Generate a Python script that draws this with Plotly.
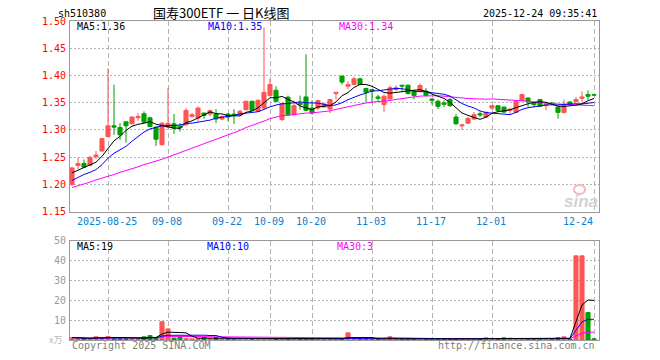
import plotly.graph_objects as go
import pandas as pd

# ---------------- data ----------------
dates = [
    "2025-08-15", "2025-08-18", "2025-08-19", "2025-08-20", "2025-08-21", "2025-08-22",
    "2025-08-25", "2025-08-26", "2025-08-27", "2025-08-28", "2025-08-29",
    "2025-09-01", "2025-09-02", "2025-09-03", "2025-09-04", "2025-09-05",
    "2025-09-08", "2025-09-09", "2025-09-10", "2025-09-11", "2025-09-12",
    "2025-09-15", "2025-09-16", "2025-09-17", "2025-09-18", "2025-09-19",
    "2025-09-22", "2025-09-23", "2025-09-24", "2025-09-25", "2025-09-26",
    "2025-09-29", "2025-09-30",
    "2025-10-09", "2025-10-10",
    "2025-10-13", "2025-10-14", "2025-10-15", "2025-10-16", "2025-10-17",
    "2025-10-20", "2025-10-21", "2025-10-22", "2025-10-23", "2025-10-24",
    "2025-10-27", "2025-10-28", "2025-10-29", "2025-10-30", "2025-10-31",
    "2025-11-03", "2025-11-04", "2025-11-05", "2025-11-06", "2025-11-07",
    "2025-11-10", "2025-11-11", "2025-11-12", "2025-11-13", "2025-11-14",
    "2025-11-17", "2025-11-18", "2025-11-19", "2025-11-20", "2025-11-21",
    "2025-11-24", "2025-11-25", "2025-11-26", "2025-11-27", "2025-11-28",
    "2025-12-01", "2025-12-02", "2025-12-03", "2025-12-04", "2025-12-05",
    "2025-12-08", "2025-12-09", "2025-12-10", "2025-12-11", "2025-12-12",
    "2025-12-15", "2025-12-16", "2025-12-17", "2025-12-18", "2025-12-19",
    "2025-12-22", "2025-12-23", "2025-12-24",
]

opens = [
    1.200, 1.2346, 1.2383, 1.2346, 1.2506, 1.2611, 1.2877, 1.3074, 1.3043, 1.3148,
    1.3111, 1.3222, 1.3296, 1.3222, 1.3050, 1.2728, 1.3050, 1.3111, 1.3068, 1.3093,
    1.3247, 1.3216, 1.3309, 1.3290, 1.3290, 1.3198, 1.3290, 1.3290, 1.3278, 1.3370,
    1.3525, 1.3340, 1.3401, 1.3630, 1.3728, 1.3190, 1.3600, 1.3278, 1.3494, 1.3605,
    1.3401, 1.3401, 1.3420, 1.3383, 1.3667, 1.3988, 1.3802, 1.3833, 1.3938, 1.3759,
    1.3741, 1.3605, 1.3463, 1.3568, 1.3741, 1.3821, 1.3821, 1.3710, 1.3710, 1.3710,
    1.3568, 1.3525, 1.3494, 1.3556, 1.3235, 1.3074, 1.3123, 1.3198, 1.3296, 1.3235,
    1.3401, 1.3444, 1.3420, 1.3358, 1.3321, 1.3537, 1.3586, 1.3494, 1.3556, 1.3444,
    1.3494, 1.3420, 1.3321, 1.3512, 1.3519, 1.3580, 1.3648, 1.3648,
]
highs = [
    1.232, 1.2488, 1.2457, 1.2519, 1.2611, 1.2850, 1.4130, 1.3833, 1.3123, 1.3150,
    1.3247, 1.3309, 1.3340, 1.3235, 1.3060, 1.3136, 1.3770, 1.3290, 1.3123, 1.3401,
    1.3309, 1.3432, 1.3315, 1.3370, 1.3383, 1.3265, 1.3310, 1.3380, 1.3370, 1.3537,
    1.3537, 1.3556, 1.4880, 1.3938, 1.3802, 1.3494, 1.3630, 1.3537, 1.3630, 1.4389,
    1.3543, 1.3556, 1.3490, 1.3568, 1.3691, 1.3990, 1.3895, 1.3975, 1.3957, 1.3772,
    1.3741, 1.3648, 1.3648, 1.3815, 1.3815, 1.3821, 1.3833, 1.3728, 1.3852, 1.3772,
    1.3568, 1.3556, 1.3543, 1.3586, 1.3290, 1.3111, 1.3235, 1.3327, 1.3340, 1.3340,
    1.3444, 1.3444, 1.3420, 1.3383, 1.3537, 1.3667, 1.3586, 1.3494, 1.3556, 1.3494,
    1.3506, 1.3420, 1.3556, 1.3525, 1.3605, 1.3710, 1.3722, 1.3652,
]
lows = [
    1.197, 1.2278, 1.2302, 1.2333, 1.2475, 1.2600, 1.2864, 1.2907, 1.2815, 1.2765,
    1.3105, 1.3167, 1.3123, 1.3050, 1.2704, 1.2716, 1.3030, 1.2925, 1.2969, 1.3074,
    1.3228, 1.3154, 1.3204, 1.3247, 1.3123, 1.3185, 1.3160, 1.3105, 1.3247, 1.3358,
    1.3340, 1.3327, 1.3383, 1.3617, 1.3506, 1.3164, 1.3265, 1.3265, 1.3370, 1.3340,
    1.3278, 1.3358, 1.3405, 1.3309, 1.3556, 1.3833, 1.3741, 1.3821, 1.3821, 1.3506,
    1.3494, 1.3525, 1.3321, 1.3556, 1.3710, 1.3710, 1.3648, 1.3568, 1.3690, 1.3617,
    1.3463, 1.3383, 1.3420, 1.3420, 1.3093, 1.3000, 1.3111, 1.3185, 1.3235, 1.3216,
    1.3370, 1.3321, 1.3309, 1.3296, 1.3309, 1.3525, 1.3420, 1.3420, 1.3420, 1.3358,
    1.3469, 1.3204, 1.3296, 1.3450, 1.3506, 1.3506, 1.3556, 1.3630,
]
closes = [
    1.230, 1.2383, 1.2315, 1.2494, 1.2537, 1.2840, 1.3074, 1.3050, 1.2907, 1.3074,
    1.3235, 1.3247, 1.3142, 1.3062, 1.2827, 1.3123, 1.3120, 1.3030, 1.3037, 1.3358,
    1.3278, 1.3401, 1.3265, 1.3352, 1.3198, 1.3247, 1.3235, 1.3265, 1.3340, 1.3525,
    1.3358, 1.3543, 1.3691, 1.3833, 1.3525, 1.3480, 1.3278, 1.3444, 1.3463, 1.3358,
    1.3309, 1.3537, 1.3475, 1.3556, 1.3691, 1.3877, 1.3833, 1.3938, 1.3833, 1.3691,
    1.3710, 1.3580, 1.3617, 1.3772, 1.3772, 1.3802, 1.3667, 1.3630, 1.3815, 1.3630,
    1.3543, 1.3432, 1.3469, 1.3444, 1.3111, 1.3093, 1.3210, 1.3278, 1.3272, 1.3321,
    1.3444, 1.3358, 1.3327, 1.3383, 1.3525, 1.3648, 1.3512, 1.3463, 1.3432, 1.3475,
    1.3481, 1.3321, 1.3444, 1.3463, 1.3556, 1.3605, 1.3617, 1.3636,
]
# volume in 万 (10k units)
volumes = [
    1.2, 0.8, 0.7, 0.8, 1.6, 1.0, 1.8, 1.0, 0.8, 0.7,
    0.7, 0.6, 1.6, 2.2, 1.2, 9.2, 5.6, 1.0, 1.5, 0.8,
    0.6, 0.7, 1.3, 0.7, 1.2, 0.6, 0.7, 0.6, 0.6, 0.6,
    0.6, 0.6, 0.7, 0.6, 0.6, 0.6, 0.6, 0.6, 0.6, 0.7,
    0.6, 0.6, 0.6, 0.6, 0.6, 0.6, 3.6, 0.7, 0.6, 0.6,
    0.6, 0.6, 0.6, 1.6, 0.6, 0.6, 0.6, 0.6, 0.6, 0.6,
    0.6, 0.6, 0.6, 0.6, 0.6, 0.6, 0.6, 0.6, 0.6, 1.1,
    0.6, 0.6, 1.1, 0.9, 0.6, 0.6, 0.6, 0.6, 0.6, 0.6,
    0.6, 1.1, 1.6, 0.5, 42.3, 42.3, 13.8, 0.6,
]
# moving-average values for the warm-up days
ma5_head = [1.221, 1.226, 1.230, 1.236]
ma10_head = [1.207, 1.213, 1.218, 1.222, 1.227, 1.236, 1.248, 1.257, 1.263]
ma30_head = [
    1.194, 1.197, 1.201, 1.204, 1.208, 1.211, 1.215, 1.218, 1.222, 1.225,
    1.229, 1.232, 1.236, 1.239, 1.243, 1.246, 1.250, 1.254, 1.258, 1.262,
    1.266, 1.270, 1.274, 1.278, 1.283, 1.287, 1.291, 1.295, 1.299,
]
price_ticks = [1.50, 1.45, 1.40, 1.35, 1.30, 1.25, 1.20, 1.15]
volume_ticks = [50, 40, 30, 20, 10]
date_ticks = ["2025-08-25", "2025-09-08", "2025-09-22", "2025-10-09", "2025-10-20",
              "2025-11-03", "2025-11-17", "2025-12-01", "2025-12-24"]
date_tick_labels = ["2025-08-25", "09-08", "09-22", "10-09", "10-20",
                    "11-03", "11-17", "12-01", "12-24"]

code = "sh510380"
title = "国寿300ETF 一 日K线图"
stamp = "2025-12-24 09:35:41"

# ---------------- derived ----------------
n = len(dates)
idx = list(range(n))
cs = pd.Series(closes)
ma5 = cs.rolling(5).mean().tolist()
ma10 = cs.rolling(10).mean().tolist()
ma30 = cs.rolling(30).mean().tolist()
ma5[:len(ma5_head)] = ma5_head
ma10[:len(ma10_head)] = ma10_head
ma30[:len(ma30_head)] = ma30_head
vs = pd.Series(volumes)
vma5 = vs.rolling(5, min_periods=1).mean().tolist()
vma10 = vs.rolling(10, min_periods=1).mean().tolist()
vma30 = vs.rolling(30, min_periods=1).mean().tolist()

RED = "#ff5555"
GREEN = "#00a000"
up = [c >= o for o, c in zip(opens, closes)]
colors = [RED if u else GREEN for u in up]

# ---------------- layout geometry (pixels) ----------------
W, H = 660, 360
L, R, T, B = 70, 61, 21, 20
PW, PH = W - L - R, H - T - B
MAIN_BOTTOM = 211.5
VOL_TOP = 240.5


def xp(px):
    return (px - L) / PW


def yp(py):
    return (H - B - py) / PH


x_range = [-0.333, n - 0.167]

fig = go.Figure()

# wicks
for col in (RED, GREEN):
    wx, wy = [], []
    for i in idx:
        if colors[i] == col:
            wx += [i, i, None]
            wy += [lows[i], highs[i], None]
    fig.add_trace(go.Scatter(x=wx, y=wy, mode="lines", line=dict(color=col, width=1),
                             xaxis="x", yaxis="y", hoverinfo="skip"))

# candle bodies
fig.add_trace(go.Bar(
    x=idx,
    base=[min(o, c) for o, c in zip(opens, closes)],
    y=[abs(c - o) for o, c in zip(opens, closes)],
    width=0.68,
    marker=dict(color=colors, line=dict(color=colors, width=1)),
    xaxis="x", yaxis="y", hoverinfo="skip",
))

# price MAs
for vals, col in ((ma30, "#ff00ff"), (ma10, "#0000ff"), (ma5, "#000000")):
    fig.add_trace(go.Scatter(x=idx, y=vals, mode="lines", line=dict(color=col, width=1),
                             xaxis="x", yaxis="y", hoverinfo="skip"))

# volume bars
fig.add_trace(go.Bar(
    x=idx, y=volumes, width=0.68,
    marker=dict(color=colors, line=dict(color=colors, width=1)),
    xaxis="x2", yaxis="y2", hoverinfo="skip",
))
for vals, col in ((vma30, "#ff00ff"), (vma10, "#0000ff"), (vma5, "#000000")):
    fig.add_trace(go.Scatter(x=idx, y=vals, mode="lines", line=dict(color=col, width=1),
                             xaxis="x2", yaxis="y2", hoverinfo="skip"))

tick_idx = [dates.index(d) for d in date_ticks]

axis_common = dict(showline=True, mirror=True, linecolor="#999999", linewidth=1,
                   zeroline=False, showticklabels=False, ticks="")

fig.update_layout(
    width=W, height=H,
    margin=dict(l=L, r=R, t=T, b=B, pad=0),
    paper_bgcolor="white", plot_bgcolor="white",
    showlegend=False, barmode="overlay", hovermode=False,
    xaxis=dict(domain=[0, 1], anchor="y", range=x_range, tickmode="array",
               tickvals=tick_idx, showgrid=True, gridcolor="#b4b4b4", gridwidth=1,
               griddash="5px,3px", **axis_common),
    yaxis=dict(domain=[yp(MAIN_BOTTOM), 1], anchor="x", range=[1.15, 1.50],
               tickmode="array", tickvals=[t for t in price_ticks if 1.15 < t < 1.50],
               showgrid=True, gridcolor="#b4b4b4", gridwidth=1, griddash="2px,2px",
               **axis_common),
    xaxis2=dict(domain=[0, 1], anchor="y2", range=x_range, tickmode="array",
                tickvals=tick_idx, showgrid=True, gridcolor="#b4b4b4", gridwidth=1,
                griddash="5px,3px", **axis_common),
    yaxis2=dict(domain=[0, yp(VOL_TOP)], anchor="x2", range=[0, 50], tickmode="array",
                tickvals=[t for t in volume_ticks if 0 < t < 50], showgrid=True,
                gridcolor="#b4b4b4", gridwidth=1, griddash="2px,2px", **axis_common),
)

MONO = "DejaVu Sans Mono"
ann = []
# header
ann.append(dict(text=code, x=xp(56), y=yp(13.5), xref="paper", yref="paper",
                xanchor="left", yanchor="middle", showarrow=False,
                font=dict(family=MONO, size=10, color="#000000")))
ann.append(dict(text=title, x=xp(221), y=yp(12.5), xref="paper", yref="paper",
                xanchor="center", yanchor="middle", showarrow=False,
                font=dict(family="Noto Sans CJK SC", size=13, color="#000000")))
ann.append(dict(text=stamp, x=xp(599), y=yp(13.5), xref="paper", yref="paper",
                xanchor="right", yanchor="middle", showarrow=False,
                font=dict(family=MONO, size=10, color="#000000")))

# price axis labels
for t in price_ticks:
    ann.append(dict(text=f"{t:.2f}", x=xp(67.5), y=t, xref="paper", yref="y",
                    xanchor="right", yanchor="middle", showarrow=False,
                    font=dict(family=MONO, size=10, color="#ff0000")))
# volume axis labels
for t in volume_ticks:
    ann.append(dict(text=f"{t}", x=xp(67.5), y=t, xref="paper", yref="y2",
                    xanchor="right", yanchor="middle", showarrow=False,
                    font=dict(family=MONO, size=10, color="#999999")))
ann.append(dict(text="x万", x=xp(63.5), y=yp(339.5), xref="paper", yref="paper",
                xanchor="right", yanchor="middle", showarrow=False,
                font=dict(family="Noto Sans CJK SC", size=9, color="#b8b8b8")))

# date labels
for i, lab in zip(tick_idx, date_tick_labels):
    if i == n - 1:
        ann.append(dict(text=lab, x=i + 0.2, y=yp(221.5), xref="x", yref="paper",
                        xanchor="right", yanchor="middle", showarrow=False,
                        font=dict(family=MONO, size=10, color="#0a80d0")))
    else:
        ann.append(dict(text=lab, x=i - 0.2, y=yp(221.5), xref="x", yref="paper",
                        xanchor="center", yanchor="middle", showarrow=False,
                        font=dict(family=MONO, size=10, color="#0a80d0")))

# MA legends
ann.append(dict(text=f"MA5:{ma5[-1]:.2f}", x=xp(75), y=yp(27), xref="paper", yref="paper",
                xanchor="left", yanchor="middle", showarrow=False,
                font=dict(family=MONO, size=10, color="#000000")))
ann.append(dict(text=f"MA10:{ma10[-1]:.2f}", x=xp(206), y=yp(27), xref="paper", yref="paper",
                xanchor="left", yanchor="middle", showarrow=False,
                font=dict(family=MONO, size=10, color="#0000ff")))
ann.append(dict(text=f"MA30:{ma30[-1]:.2f}", x=xp(337), y=yp(27), xref="paper", yref="paper",
                xanchor="left", yanchor="middle", showarrow=False,
                font=dict(family=MONO, size=10, color="#ff00ff")))
ann.append(dict(text=f"MA5:{int(vma5[-1])}", x=xp(75), y=yp(246.3), xref="paper", yref="paper",
                xanchor="left", yanchor="middle", showarrow=False,
                font=dict(family=MONO, size=10, color="#000000")))
ann.append(dict(text=f"MA10:{int(vma10[-1])}", x=xp(205), y=yp(246.3), xref="paper", yref="paper",
                xanchor="left", yanchor="middle", showarrow=False,
                font=dict(family=MONO, size=10, color="#0000ff")))
ann.append(dict(text=f"MA30:{int(vma30[-1])}", x=xp(335), y=yp(246.3), xref="paper", yref="paper",
                xanchor="left", yanchor="middle", showarrow=False,
                font=dict(family=MONO, size=10, color="#ff00ff")))

# footer
ann.append(dict(text="Copyright 2025 SINA.COM", x=xp(69.5), y=yp(345.5), xref="paper", yref="paper",
                xanchor="left", yanchor="middle", showarrow=False,
                font=dict(family=MONO, size=10, color="#808080")))
ann.append(dict(text="http://finance.sina.com.cn", x=xp(597), y=yp(345.5), xref="paper", yref="paper",
                xanchor="right", yanchor="middle", showarrow=False,
                font=dict(family=MONO, size=10, color="#808080")))

# watermark
ann.append(dict(text="<b><i>sina</i></b>", x=xp(581), y=yp(201), xref="paper", yref="paper",
                xanchor="center", yanchor="middle", showarrow=False,
                font=dict(family="Liberation Sans", size=17, color="#d2d2d2")))

fig.update_layout(annotations=ann)
fig.add_shape(type="circle", xref="paper", yref="paper",
              x0=xp(574), x1=xp(585), y0=yp(194), y1=yp(185),
              line=dict(color="#f2b8b8", width=2), fillcolor="rgba(0,0,0,0)")

fig.write_html("out.html", config={"displayModeBar": False, "staticPlot": True})

# remove the browser's default page margin so the 660x360 figure fills the window
with open("out.html", encoding="utf-8") as f:
    page = f.read()
page = page.replace("<head>", "<head><style>html,body{margin:0;padding:0;overflow:hidden;}</style>", 1)
with open("out.html", "w", encoding="utf-8") as f:
    f.write(page)
